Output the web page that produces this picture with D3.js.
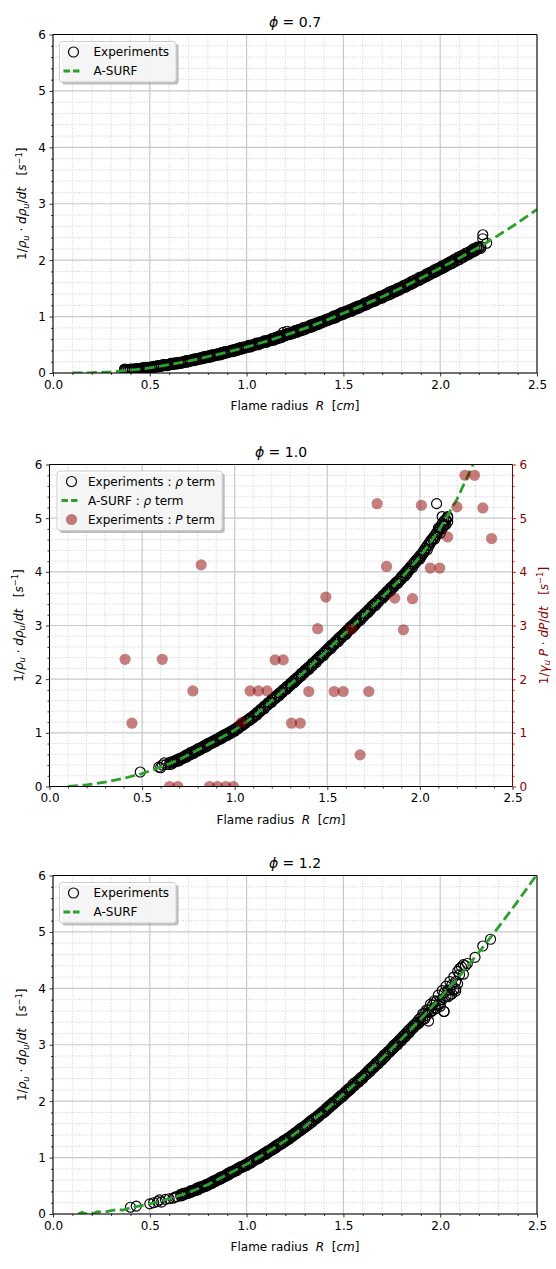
<!DOCTYPE html>
<html><head><meta charset="utf-8">
<script src="https://cdn.jsdelivr.net/npm/d3@7"></script>
<style>body{margin:0;background:#fff}svg{display:block}text{font-family:"DejaVu Sans",sans-serif}</style>
</head><body><svg id="c" width="556" height="1269"></svg>
<script>
// ---------- data ----------
const xTicks=[0,0.5,1,1.5,2,2.5];
const yTicks=[0,1,2,3,4,5,6];
const titles=["0.7","1.0","1.2"];

// A-SURF curves [R, value]
const asurf07=[[0.1,0],[0.2,0.005],[0.3,0.02],[0.4,0.05],[0.5,0.09],[0.6,0.15],[0.7,0.21],[0.8,0.29],[0.9,0.37],[1.0,0.46],[1.1,0.56],[1.2,0.67],[1.3,0.79],[1.4,0.92],[1.5,1.06],[1.6,1.2],[1.7,1.35],[1.8,1.51],[1.9,1.68],[2.0,1.86],[2.1,2.04],[2.2,2.23],[2.3,2.44],[2.4,2.66],[2.5,2.9]];
const asurf10=[[0.1,0],[0.2,0.03],[0.3,0.08],[0.4,0.15],[0.5,0.24],[0.6,0.36],[0.7,0.5],[0.8,0.68],[0.9,0.86],[1.0,1.05],[1.1,1.3],[1.2,1.6],[1.3,1.9],[1.4,2.21],[1.5,2.54],[1.6,2.87],[1.7,3.2],[1.8,3.54],[1.9,3.88],[2.0,4.28],[2.1,4.76],[2.2,5.35],[2.3,6.1]];
const asurf12=[[0.13,0],[0.15,0.03],[0.17,0.0],[0.19,0.03],[0.21,0.01],[0.23,0.04],[0.26,0.03],[0.3,0.06],[0.33,0.08],[0.36,0.07],[0.4,0.11],[0.5,0.18],[0.6,0.27],[0.7,0.38],[0.8,0.52],[0.9,0.7],[1.0,0.88],[1.1,1.08],[1.2,1.3],[1.3,1.55],[1.4,1.82],[1.5,2.12],[1.6,2.43],[1.7,2.76],[1.8,3.1],[1.9,3.46],[2.0,3.83],[2.1,4.22],[2.2,4.64],[2.3,5.08],[2.4,5.54],[2.5,6.02]];

// Experiments (rho term): radius grids and four repeated runs per case
const R07odd=[0.37,0.39,0.41,0.43,0.45,0.47,0.49,0.51,0.53,0.55,0.57,0.59,0.61,0.63,0.65,0.67,0.69,0.71,0.73,0.75,0.77,0.79,0.81,0.83,0.85,0.87,0.89,0.91,0.93,0.95,0.97,0.99,1.01,1.03,1.05,1.07,1.09,1.11,1.13,1.15,1.17,1.19,1.21,1.23,1.25,1.27,1.29,1.31,1.33,1.35,1.37,1.39,1.41,1.43,1.45,1.47,1.49,1.51,1.53,1.55,1.57,1.59,1.61,1.63,1.65,1.67,1.69,1.71,1.73,1.75,1.77,1.79,1.81,1.83,1.85,1.87,1.89,1.91,1.93,1.95,1.97,1.99,2.01,2.03,2.05,2.07,2.09,2.11,2.13,2.15,2.17,2.19,2.21];
const R07even=[0.38,0.40,0.42,0.44,0.46,0.48,0.50,0.52,0.54,0.56,0.58,0.60,0.62,0.64,0.66,0.68,0.70,0.72,0.74,0.76,0.78,0.80,0.82,0.84,0.86,0.88,0.90,0.92,0.94,0.96,0.98,1.00,1.02,1.04,1.06,1.08,1.10,1.12,1.14,1.16,1.18,1.20,1.22,1.24,1.26,1.28,1.30,1.32,1.34,1.36,1.38,1.40,1.42,1.44,1.46,1.48,1.50,1.52,1.54,1.56,1.58,1.60,1.62,1.64,1.66,1.68,1.70,1.72,1.74,1.76,1.78,1.80,1.82,1.84,1.86,1.88,1.90,1.92,1.94,1.96,1.98,2.00,2.02,2.04,2.06,2.08,2.10,2.12,2.14,2.16,2.18,2.20,2.22];
const run07a=[0.06,0.05,0.07,0.06,0.08,0.09,0.08,0.11,0.10,0.13,0.14,0.13,0.17,0.16,0.19,0.18,0.22,0.21,0.25,0.24,0.28,0.27,0.31,0.30,0.34,0.33,0.38,0.37,0.41,0.40,0.45,0.44,0.49,0.48,0.53,0.52,0.57,0.56,0.61,0.60,0.66,0.67,0.70,0.69,0.75,0.74,0.80,0.79,0.85,0.84,0.90,0.89,0.95,0.95,1.01,1.00,1.07,1.06,1.12,1.11,1.18,1.17,1.24,1.23,1.30,1.29,1.36,1.35,1.42,1.41,1.48,1.47,1.55,1.54,1.62,1.61,1.69,1.68,1.76,1.75,1.83,1.82,1.90,1.89,1.97,1.96,2.05,2.04,2.12,2.11,2.20,2.19,2.24];
const run07c=[0.04,0.06,0.05,0.08,0.07,0.09,0.10,0.09,0.12,0.11,0.15,0.14,0.16,0.18,0.17,0.20,0.19,0.23,0.22,0.26,0.25,0.29,0.28,0.32,0.32,0.36,0.35,0.39,0.38,0.43,0.42,0.46,0.46,0.50,0.50,0.54,0.54,0.58,0.58,0.63,0.62,0.65,0.68,0.71,0.72,0.77,0.76,0.81,0.81,0.87,0.86,0.92,0.92,0.97,0.97,1.03,1.03,1.09,1.09,1.15,1.14,1.20,1.20,1.26,1.26,1.32,1.32,1.38,1.38,1.45,1.44,1.51,1.51,1.58,1.57,1.65,1.64,1.71,1.71,1.79,1.78,1.86,1.85,1.93,1.93,2.01,2.00,2.08,2.08,2.15,2.15,2.23,2.21];
const run07b=[0.05,0.07,0.06,0.08,0.07,0.10,0.09,0.12,0.11,0.14,0.13,0.16,0.15,0.18,0.17,0.21,0.20,0.24,0.23,0.27,0.26,0.30,0.29,0.33,0.32,0.37,0.36,0.40,0.39,0.44,0.43,0.47,0.46,0.51,0.50,0.55,0.54,0.59,0.58,0.64,0.63,0.68,0.68,0.73,0.72,0.78,0.77,0.83,0.82,0.88,0.88,0.93,0.93,0.99,0.98,1.05,1.04,1.10,1.09,1.16,1.15,1.21,1.21,1.28,1.27,1.34,1.33,1.40,1.39,1.46,1.46,1.52,1.52,1.59,1.59,1.66,1.66,1.73,1.73,1.80,1.80,1.87,1.87,1.95,1.94,2.02,2.01,2.09,2.09,2.17,2.16,2.23,2.45];
const run07d=[0.06,0.05,0.07,0.06,0.09,0.08,0.10,0.10,0.13,0.12,0.15,0.14,0.17,0.16,0.19,0.19,0.22,0.22,0.25,0.25,0.29,0.28,0.32,0.31,0.35,0.34,0.38,0.38,0.42,0.42,0.46,0.45,0.49,0.49,0.53,0.53,0.57,0.57,0.62,0.61,0.66,0.66,0.71,0.70,0.76,0.75,0.81,0.80,0.86,0.85,0.91,0.91,0.96,0.96,1.02,1.02,1.08,1.07,1.13,1.13,1.19,1.19,1.25,1.25,1.31,1.31,1.37,1.37,1.44,1.43,1.50,1.50,1.56,1.56,1.63,1.63,1.70,1.70,1.77,1.77,1.84,1.84,1.91,1.91,1.98,1.98,2.06,2.05,2.13,2.13,2.20,2.21,2.38];
const extra07=[[0.37,0.07],[1.19,0.72],[1.21,0.74],[2.24,2.30]];

const R10odd=[0.65,0.67,0.69,0.71,0.73,0.75,0.77,0.79,0.81,0.83,0.85,0.87,0.89,0.91,0.93,0.95,0.97,0.99,1.01,1.03,1.05,1.07,1.09,1.11,1.13,1.15,1.17,1.19,1.21,1.23,1.25,1.27,1.29,1.31,1.33,1.35,1.37,1.39,1.41,1.43,1.45,1.47,1.49,1.51,1.53,1.55,1.57,1.59,1.61,1.63,1.65,1.67,1.69,1.71,1.73,1.75,1.77,1.79,1.81,1.83,1.85,1.87,1.89,1.91,1.93,1.95,1.97,1.99,2.01,2.03,2.05,2.07,2.09,2.11,2.13,2.15];
const R10even=[0.66,0.68,0.70,0.72,0.74,0.76,0.78,0.80,0.82,0.84,0.86,0.88,0.90,0.92,0.94,0.96,0.98,1.00,1.02,1.04,1.06,1.08,1.10,1.12,1.14,1.16,1.18,1.20,1.22,1.24,1.26,1.28,1.30,1.32,1.34,1.36,1.38,1.40,1.42,1.44,1.46,1.48,1.50,1.52,1.54,1.56,1.58,1.60,1.62,1.64,1.66,1.68,1.70,1.72,1.74,1.76,1.78,1.80,1.82,1.84,1.86,1.88,1.90,1.92,1.94,1.96,1.98,2.00,2.02,2.04,2.06,2.08,2.10,2.12,2.14];
const run10a=[0.45,0.46,0.50,0.51,0.57,0.58,0.64,0.66,0.71,0.73,0.79,0.80,0.86,0.87,0.93,0.95,1.01,1.02,1.09,1.12,1.19,1.22,1.29,1.32,1.40,1.44,1.52,1.56,1.64,1.68,1.76,1.80,1.88,1.92,2.01,2.04,2.13,2.17,2.26,2.30,2.39,2.43,2.52,2.56,2.65,2.69,2.79,2.82,2.92,2.95,3.05,3.09,3.18,3.22,3.32,3.36,3.45,3.50,3.59,3.63,3.73,3.77,3.86,3.91,4.02,4.07,4.18,4.23,4.34,4.41,4.54,4.60,4.73,4.80,4.95,5.01];
const run10c=[0.41,0.45,0.47,0.53,0.54,0.60,0.61,0.67,0.68,0.75,0.75,0.82,0.83,0.89,0.90,0.97,0.98,1.05,1.06,1.14,1.16,1.24,1.26,1.34,1.38,1.46,1.50,1.58,1.62,1.70,1.73,1.82,1.85,1.95,1.97,2.07,2.10,2.20,2.22,2.32,2.36,2.45,2.49,2.59,2.62,2.72,2.75,2.85,2.88,2.99,3.01,3.12,3.15,3.25,3.28,3.39,3.42,3.52,3.55,3.66,3.69,3.80,3.83,3.94,3.97,4.10,4.14,4.26,4.30,4.44,4.49,4.63,4.68,4.83,4.88,5.03];
const run10b=[0.42,0.49,0.48,0.55,0.55,0.63,0.62,0.70,0.70,0.77,0.77,0.84,0.84,0.92,0.92,0.99,0.99,1.07,1.08,1.17,1.18,1.27,1.28,1.38,1.40,1.50,1.52,1.62,1.64,1.74,1.76,1.86,1.88,1.98,2.00,2.11,2.13,2.23,2.25,2.36,2.39,2.49,2.52,2.63,2.65,2.76,2.78,2.89,2.92,3.02,3.05,3.16,3.18,3.29,3.32,3.42,3.45,3.56,3.59,3.70,3.72,3.83,3.86,3.98,4.02,4.14,4.18,4.30,4.35,4.49,4.55,4.68,4.74,4.90,4.95];
const run10d=[0.46,0.46,0.52,0.52,0.59,0.59,0.66,0.66,0.73,0.73,0.81,0.81,0.88,0.88,0.96,0.95,1.03,1.03,1.12,1.13,1.22,1.23,1.32,1.33,1.44,1.45,1.56,1.57,1.68,1.69,1.80,1.81,1.92,1.93,2.04,2.06,2.17,2.18,2.30,2.31,2.43,2.44,2.56,2.57,2.69,2.70,2.82,2.83,2.96,2.97,3.09,3.10,3.22,3.24,3.36,3.37,3.49,3.51,3.63,3.64,3.76,3.78,3.91,3.92,4.06,4.08,4.22,4.24,4.39,4.41,4.59,4.61,4.78,4.80,4.98];
const extra10=[[0.49,0.27],[0.59,0.36],[0.60,0.35],[0.61,0.40],[0.62,0.44],[0.63,0.41],[2.09,5.27],[2.12,5.03],[2.13,4.86],[2.14,4.88],[2.15,4.93],[2.11,4.72],[2.10,4.82]];

const R12odd=[0.67,0.69,0.71,0.73,0.75,0.77,0.79,0.81,0.83,0.85,0.87,0.89,0.91,0.93,0.95,0.97,0.99,1.01,1.03,1.05,1.07,1.09,1.11,1.13,1.15,1.17,1.19,1.21,1.23,1.25,1.27,1.29,1.31,1.33,1.35,1.37,1.39,1.41,1.43,1.45,1.47,1.49,1.51,1.53,1.55,1.57,1.59,1.61,1.63,1.65,1.67,1.69,1.71,1.73,1.75,1.77,1.79,1.81,1.83,1.85,1.87,1.89,1.91,1.93,1.95,1.97,1.99,2.01,2.03,2.05,2.07,2.09];
const R12even=[0.66,0.68,0.70,0.72,0.74,0.76,0.78,0.80,0.82,0.84,0.86,0.88,0.90,0.92,0.94,0.96,0.98,1.00,1.02,1.04,1.06,1.08,1.10,1.12,1.14,1.16,1.18,1.20,1.22,1.24,1.26,1.28,1.30,1.32,1.34,1.36,1.38,1.40,1.42,1.44,1.46,1.48,1.50,1.52,1.54,1.56,1.58,1.60,1.62,1.64,1.66,1.68,1.70,1.72,1.74,1.76,1.78,1.80,1.82,1.84,1.86,1.88,1.90,1.92,1.94,1.96,1.98,2.00,2.02,2.04,2.06,2.08,2.10];
const run12a=[0.36,0.37,0.41,0.42,0.47,0.48,0.52,0.55,0.59,0.62,0.66,0.69,0.73,0.76,0.80,0.84,0.87,0.91,0.95,0.99,1.03,1.08,1.12,1.16,1.21,1.25,1.30,1.34,1.39,1.44,1.49,1.54,1.59,1.65,1.70,1.75,1.81,1.87,1.93,1.99,2.05,2.11,2.17,2.23,2.30,2.35,2.42,2.48,2.55,2.61,2.68,2.74,2.82,2.88,2.95,3.02,3.09,3.16,3.23,3.30,3.37,3.45,3.55,3.62,3.72,3.78,3.88,3.96,4.04,4.12,4.20,4.30];
const run12c=[0.33,0.36,0.38,0.41,0.43,0.47,0.49,0.53,0.56,0.60,0.63,0.67,0.70,0.74,0.77,0.82,0.85,0.89,0.92,0.97,1.00,1.05,1.09,1.13,1.17,1.22,1.26,1.31,1.36,1.41,1.46,1.51,1.56,1.61,1.67,1.72,1.78,1.83,1.89,1.95,2.01,2.07,2.13,2.19,2.26,2.32,2.38,2.45,2.51,2.58,2.64,2.71,2.77,2.85,2.91,2.98,3.05,3.12,3.19,3.26,3.33,3.38,3.44,3.52,3.58,3.66,3.70,3.80,3.86,3.97,3.98,4.08];
const run12b=[0.35,0.35,0.39,0.42,0.45,0.46,0.50,0.53,0.57,0.60,0.64,0.66,0.71,0.73,0.78,0.80,0.85,0.88,0.93,0.95,1.01,1.03,1.09,1.11,1.18,1.20,1.27,1.29,1.36,1.38,1.46,1.48,1.56,1.58,1.67,1.69,1.78,1.80,1.90,1.92,2.01,2.04,2.13,2.16,2.25,2.28,2.38,2.40,2.51,2.53,2.64,2.66,2.78,2.80,2.91,2.94,3.05,3.07,3.19,3.21,3.34,3.36,3.48,3.46,3.62,3.60,3.77,3.72,3.92,3.85,4.06,3.99,4.24];
const run12d=[0.32,0.37,0.37,0.40,0.42,0.48,0.48,0.51,0.54,0.58,0.61,0.65,0.68,0.75,0.76,0.82,0.83,0.86,0.90,0.97,0.98,1.05,1.06,1.13,1.15,1.23,1.24,1.31,1.33,1.41,1.43,1.52,1.53,1.62,1.63,1.72,1.75,1.83,1.86,1.96,1.98,2.08,2.09,2.20,2.22,2.33,2.34,2.44,2.47,2.58,2.60,2.71,2.73,2.84,2.87,2.99,3.00,3.12,3.14,3.27,3.29,3.40,3.42,3.56,3.57,3.70,3.64,3.79,3.59,3.97,3.90,4.12,4.35];
const extra12=[[0.40,0.12],[0.43,0.14],[0.50,0.18],[0.52,0.20],[0.54,0.22],[0.55,0.25],[0.56,0.21],[0.58,0.26],[0.60,0.27],[0.62,0.28],[0.63,0.30],[0.64,0.31],[2.02,3.59],[2.11,4.38],[2.12,4.25],[2.12,4.42],[2.13,4.40],[2.14,4.44],[2.18,4.55],[2.22,4.75],[2.26,4.87],[2.05,3.88],[2.08,3.95],[2.00,3.68],[1.94,3.42]];

// Experiments (P term), phi = 1.0 [R, value]
const pterm10=[[0.408,2.37],[0.445,1.18],[0.609,2.37],[0.648,0],[0.693,0],[0.774,1.78],[0.819,4.13],[0.864,0],[0.907,0],[0.952,0],[0.993,0],[1.036,1.19],[1.083,1.78],[1.128,1.78],[1.175,1.78],[1.218,2.36],[1.262,2.36],[1.307,1.18],[1.354,1.18],[1.40,1.77],[1.448,2.94],[1.492,3.53],[1.537,1.77],[1.586,1.77],[1.631,2.93],[1.677,0.59],[1.724,1.77],[1.769,5.27],[1.82,4.10],[1.864,3.51],[1.911,2.92],[1.96,3.50],[2.008,5.24],[2.056,4.07],[2.107,4.07],[2.15,4.65],[2.20,5.21],[2.243,5.80],[2.295,5.80],[2.34,5.19],[2.387,4.62]];

const exp07=[].concat(d3.zip(R07odd,run07a),d3.zip(R07even,run07b),d3.zip(R07odd,run07c),d3.zip(R07even,run07d),extra07);
const exp10=[].concat(d3.zip(R10odd,run10a),d3.zip(R10even,run10b),d3.zip(R10odd,run10c),d3.zip(R10even,run10d),extra10);
const exp12=[].concat(d3.zip(R12odd,run12a),d3.zip(R12even,run12b),d3.zip(R12odd,run12c),d3.zip(R12even,run12d),extra12);

// ---------- layout ----------
const layout=[
 {l:53,r:537,t:34.5,b:373,  leg:{dx:6.5,dy:7,mx:14,tx:34}},
 {l:49.5,r:512.5,t:464.5,b:786.5, leg:{dx:7.5,dy:6.5,mx:14.5,tx:31}},
 {l:53,r:537,t:875.5,b:1214, leg:{dx:6.5,dy:7,mx:14,tx:34}}
];
const GREEN="#2ca02c", DARKRED="#8b0000";
const svg=d3.select("#c");

function rich(t, segs, fs){
  let shift=0;
  segs.forEach(s=>{
    const ts=t.append("tspan").text(s.t);
    if(s.i) ts.attr("font-style","italic");
    const target=s.sub?fs*0.22:(s.sup?-fs*0.38:0);
    if(target!==shift){ts.attr("dy",target-shift);shift=target;}
    ts.attr("font-size",(s.sub||s.sup)?fs*0.7:fs);
  });
  return t;
}
const NB="\u00A0";
const yLabelSegs=[{t:"1/"},{t:"ρ",i:1},{t:"u",i:1,sub:1},{t:NB+"·"+NB},{t:"dρ",i:1},{t:"u",i:1,sub:1},{t:"/"},{t:"dt",i:1},{t:NB+NB+NB+"["},{t:"s",i:1},{t:"−1",sup:1},{t:"]"}];
const y2LabelSegs=[{t:"1/"},{t:"γ",i:1},{t:"u",i:1,sub:1},{t:NB+"P",i:1},{t:NB+"·"+NB},{t:"dP",i:1},{t:"/"},{t:"dt",i:1},{t:NB+NB+NB+"["},{t:"s",i:1},{t:"−1",sup:1},{t:"]"}];
const xLabelSegs=[{t:"Flame radius"+NB+NB},{t:"R",i:1},{t:NB+NB+"["},{t:"cm",i:1},{t:"]"}];

const datasets=[
 {exp:exp07,curve:asurf07,p:null,legend:[["o",[{t:"Experiments"}]],["l",[{t:"A-SURF"}]]]},
 {exp:exp10,curve:asurf10,p:pterm10,legend:[["o",[{t:"Experiments :"+NB},{t:"ρ",i:1},{t:NB+"term"}]],["l",[{t:"A-SURF :"+NB},{t:"ρ",i:1},{t:NB+"term"}]],["p",[{t:"Experiments :"+NB},{t:"P",i:1},{t:NB+"term"}]]]},
 {exp:exp12,curve:asurf12,p:null,legend:[["o",[{t:"Experiments"}]],["l",[{t:"A-SURF"}]]]}
];

datasets.forEach((d,k)=>{
  const L=layout[k];
  const x=d3.scaleLinear().domain([0,2.5]).range([L.l,L.r]);
  const y=d3.scaleLinear().domain([0,6]).range([L.b,L.t]);
  const g=svg.append("g");
  const cid="clip"+k;
  svg.append("clipPath").attr("id",cid).append("rect").attr("x",L.l).attr("y",L.t).attr("width",L.r-L.l).attr("height",L.b-L.t);

  const xMinor=d3.range(0,26).filter(i=>i%5).map(i=>i/10);
  const yMinor=d3.range(0,31).filter(i=>i%5).map(i=>i/5);
  g.append("g").selectAll("line").data(xMinor).join("line")
    .attr("x1",v=>x(v)).attr("x2",v=>x(v)).attr("y1",L.t).attr("y2",L.b)
    .attr("stroke","#c4c4c4").attr("stroke-width",0.8).attr("stroke-dasharray","1,1.6");
  g.append("g").selectAll("line").data(yMinor).join("line")
    .attr("y1",v=>y(v)).attr("y2",v=>y(v)).attr("x1",L.l).attr("x2",L.r)
    .attr("stroke","#c4c4c4").attr("stroke-width",0.8).attr("stroke-dasharray","1,1.6");
  g.append("g").selectAll("line").data(xTicks).join("line")
    .attr("x1",v=>x(v)).attr("x2",v=>x(v)).attr("y1",L.t).attr("y2",L.b)
    .attr("stroke","#c8c8c8").attr("stroke-width",1.2);
  g.append("g").selectAll("line").data(yTicks).join("line")
    .attr("y1",v=>y(v)).attr("y2",v=>y(v)).attr("x1",L.l).attr("x2",L.r)
    .attr("stroke","#c8c8c8").attr("stroke-width",1.2);

  const plot=g.append("g").attr("clip-path",`url(#${cid})`);
  plot.append("g").selectAll("circle").data(d.exp).join("circle")
    .attr("cx",p=>x(p[0])).attr("cy",p=>y(p[1])).attr("r",5)
    .attr("fill","none").attr("stroke","#000").attr("stroke-width",1.15);
  const line=d3.line().x(p=>x(p[0])).y(p=>y(p[1]));
  plot.append("path").attr("d",line(d.curve)).attr("fill","none")
    .attr("stroke",GREEN).attr("stroke-width",2.8).attr("stroke-dasharray","10,4.5");
  if(d.p){
    plot.append("g").selectAll("circle").data(d.p).join("circle")
      .attr("cx",p=>x(p[0])).attr("cy",p=>y(p[1])).attr("r",5.6)
      .attr("fill",DARKRED).attr("fill-opacity",0.5).attr("stroke","none");
  }

  const fs=12;
  const ax=g.append("g").attr("transform",`translate(0,${L.b})`)
    .call(d3.axisBottom(x).tickValues(xTicks).tickFormat(d3.format(".1f")).tickSizeInner(3.5).tickSizeOuter(0).tickPadding(3.5));
  const axm=g.append("g").attr("transform",`translate(0,${L.b})`)
    .call(d3.axisBottom(x).tickValues(xMinor).tickFormat("").tickSizeInner(2).tickSizeOuter(0));
  const ay=g.append("g").attr("transform",`translate(${L.l},0)`)
    .call(d3.axisLeft(y).tickValues(yTicks).tickFormat(d3.format("d")).tickSizeInner(3.5).tickSizeOuter(0).tickPadding(3.5));
  const aym=g.append("g").attr("transform",`translate(${L.l},0)`)
    .call(d3.axisLeft(y).tickValues(yMinor).tickFormat("").tickSizeInner(2).tickSizeOuter(0));
  [ax,axm,ay,aym].forEach(a=>{a.select(".domain").remove();a.selectAll("text").attr("font-size",fs).attr("font-family",'"DejaVu Sans",sans-serif').attr("fill","#000");a.selectAll("line").attr("stroke","#000").attr("stroke-width",0.8);});
  let rightColor="#000";
  if(d.p){
    rightColor=DARKRED;
    const ar=g.append("g").attr("transform",`translate(${L.r},0)`)
      .call(d3.axisRight(y).tickValues(yTicks).tickFormat(d3.format("d")).tickSizeInner(3.5).tickSizeOuter(0).tickPadding(3.5));
    const arm=g.append("g").attr("transform",`translate(${L.r},0)`)
      .call(d3.axisRight(y).tickValues(yMinor).tickFormat("").tickSizeInner(2).tickSizeOuter(0));
    [ar,arm].forEach(a=>{a.select(".domain").remove();a.selectAll("text").attr("font-size",fs).attr("font-family",'"DejaVu Sans",sans-serif').attr("fill",DARKRED);a.selectAll("line").attr("stroke",DARKRED).attr("stroke-width",0.8);});
    rich(g.append("text").attr("transform",`translate(${L.r+31},${(L.t+L.b)/2}) rotate(-90)`).attr("text-anchor","middle").attr("fill",DARKRED).attr("font-size",fs).attr("dy","0.35em"),y2LabelSegs,fs);
  }
  g.append("line").attr("x1",L.l).attr("x2",L.r).attr("y1",L.t).attr("y2",L.t).attr("stroke","#000").attr("stroke-width",1);
  g.append("line").attr("x1",L.l).attr("x2",L.r).attr("y1",L.b).attr("y2",L.b).attr("stroke","#000").attr("stroke-width",1);
  g.append("line").attr("x1",L.l).attr("x2",L.l).attr("y1",L.t).attr("y2",L.b).attr("stroke","#000").attr("stroke-width",1);
  g.append("line").attr("x1",L.r).attr("x2",L.r).attr("y1",L.t).attr("y2",L.b).attr("stroke",rightColor).attr("stroke-width",1);

  rich(g.append("text").attr("x",(L.l+L.r)/2).attr("y",L.b+37).attr("text-anchor","middle").attr("font-size",fs),xLabelSegs,fs);
  rich(g.append("text").attr("transform",`translate(${L.l-31},${(L.t+L.b)/2}) rotate(-90)`).attr("text-anchor","middle").attr("font-size",fs).attr("dy","0.35em"),yLabelSegs,fs);
  const tf=14;
  rich(g.append("text").attr("x",(L.l+L.r)/2).attr("y",L.t-8).attr("text-anchor","middle").attr("font-size",tf),[{t:"ϕ",i:1},{t:NB+"="+NB+titles[k]}],tf);

  const lg=g.append("g").attr("transform",`translate(${L.l+L.leg.dx},${L.t+L.leg.dy})`);
  const n=d.legend.length;
  const rowH=19, h=rowH*n+2.5;
  const texts=[];
  const tg=lg.append("g");
  d.legend.forEach((e,i)=>{
    const cy=10.5+i*rowH;
    texts.push(rich(tg.append("text").attr("x",L.leg.tx).attr("y",cy).attr("dy","0.36em").attr("font-size",fs),e[1],fs));
  });
  const w=d3.max(texts,t=>t.node().getComputedTextLength())+L.leg.tx+7;
  lg.insert("rect",":first-child").attr("x",0).attr("y",0).attr("width",w).attr("height",h).attr("rx",3)
    .attr("fill","#fff").attr("fill-opacity",0.85).attr("stroke","#cccccc").attr("stroke-width",1);
  lg.insert("rect",":first-child").attr("x",2.5).attr("y",2.5).attr("width",w).attr("height",h).attr("rx",3)
    .attr("fill","#888").attr("fill-opacity",0.55);
  d.legend.forEach((e,i)=>{
    const cy=10.5+i*rowH;
    if(e[0]==="o") lg.append("circle").attr("cx",L.leg.mx).attr("cy",cy).attr("r",5).attr("fill","none").attr("stroke","#000").attr("stroke-width",1.15);
    if(e[0]==="l") lg.append("line").attr("x1",L.leg.mx-10).attr("x2",L.leg.mx+9).attr("y1",cy).attr("y2",cy).attr("stroke",GREEN).attr("stroke-width",2.8).attr("stroke-dasharray","6.5,3");
    if(e[0]==="p") lg.append("circle").attr("cx",L.leg.mx).attr("cy",cy).attr("r",5.6).attr("fill",DARKRED).attr("fill-opacity",0.5);
  });
});
</script></body></html>
